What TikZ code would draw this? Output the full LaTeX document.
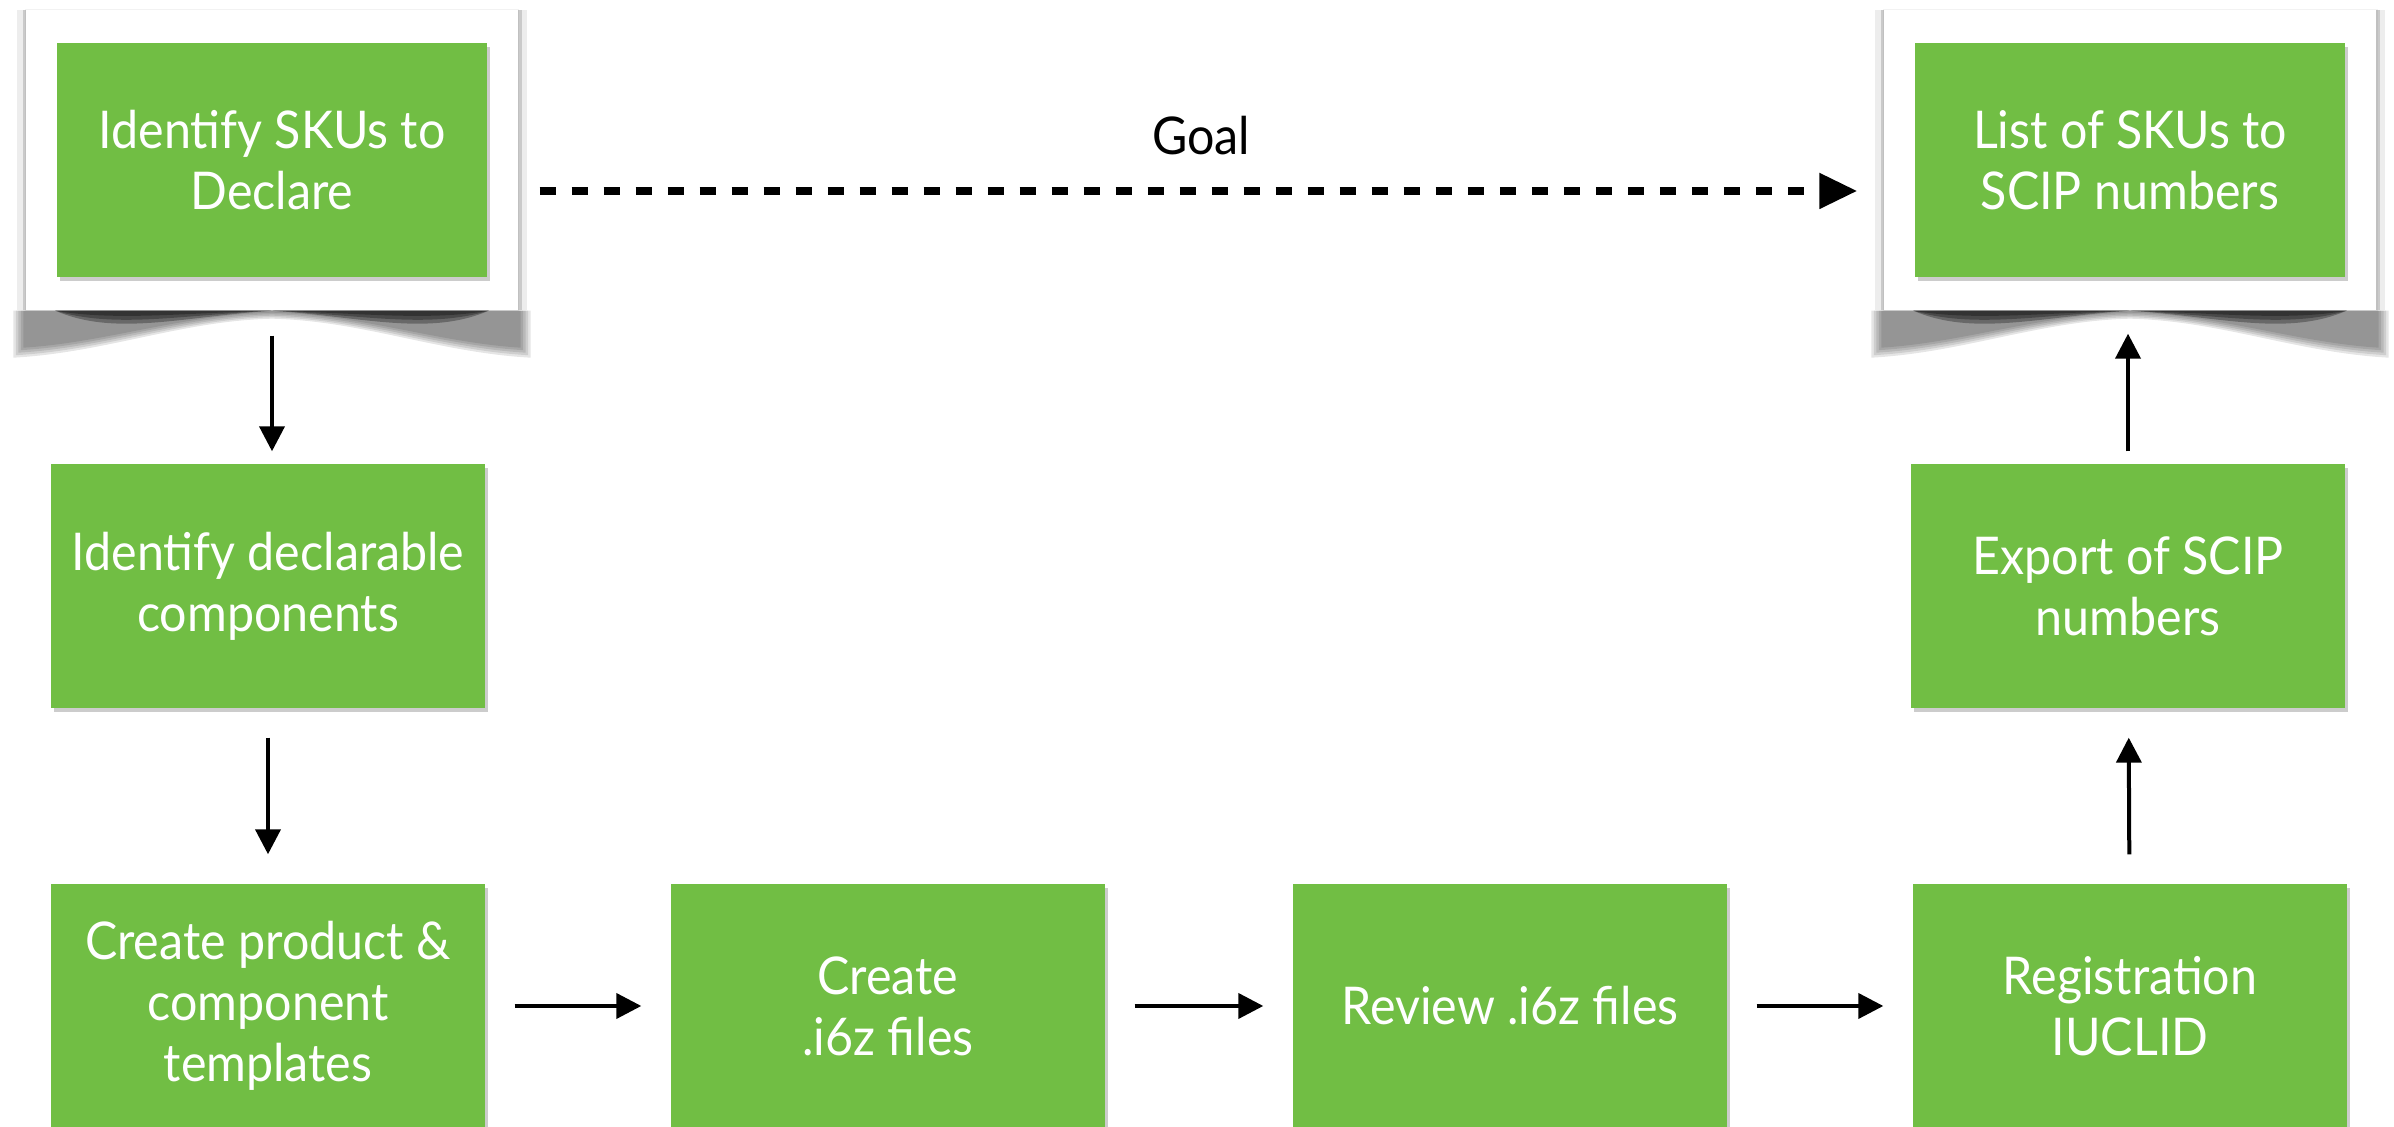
\documentclass[tikz,border=0pt]{standalone}
\usepackage{fontspec}
\setmainfont{Lato}[FakeStretch=0.93]
\usetikzlibrary{arrows.meta,calc,shadows}

\definecolor{stepgreen}{RGB}{113,190,68}

\tikzset{
  stepbox/.style={fill=stepgreen, text=white, align=center, inner sep=0pt,
    minimum width=4.34cm, minimum height=2.44cm,
    drop shadow={fill=black, opacity=0.2, shadow xshift=0.03cm, shadow yshift=-0.04cm}},
  topbox/.style={stepbox, minimum width=4.30cm, minimum height=2.34cm},
  frmbox/.style={fill=white, inner sep=0pt, minimum width=4.92cm, minimum height=3.0cm,
    general shadow={fill=black, opacity=0.07, shadow xshift=-0.09cm},
    general shadow={fill=black, opacity=0.07, shadow xshift=0.09cm},
    general shadow={fill=black, opacity=0.15, shadow xshift=-0.035cm},
    general shadow={fill=black, opacity=0.15, shadow xshift=0.035cm},
    general shadow={fill=black, opacity=0.05, shadow scale=1.006}},
  arr/.style={-{Triangle[length=0.25cm,width=0.25cm]}, line width=0.04cm,
    shorten <=0.29cm, shorten >=0.29cm},
  goalarr/.style={-{Triangle[length=0.38cm,width=0.34cm]}, line width=0.08cm,
    dash pattern=on 0.16cm off 0.16cm}
}

\begin{document}
\begin{tikzpicture}[x=1cm,y=1cm,font=\fontsize{14.8}{17.4}\selectfont]
\clip (0,0) rectangle (23.94,11.27);
% white frames with curled shadow
\node[frmbox] (idskufrm) at (2.72,9.67) {};
\node[frmbox] (listfrm) at (21.30,9.67) {};
\foreach \f in {idskufrm,listfrm}{
  \foreach \s in {0,0.025,0.05,0.075,0.1}
    \fill[black, opacity=0.1]
      ($(\f.south west)+(-0.12+\s,0)$) -- ($(\f.south west)+(-0.12+\s,-0.47+\s)$)
      .. controls ($(\f.south west)+(0.8,-0.42+\s)$) and ($(\f.south)+(-0.9,-0.1+0.6*\s)$) .. ($(\f.south)+(0,-0.08+0.6*\s)$)
      .. controls ($(\f.south)+(0.9,-0.1+0.6*\s)$) and ($(\f.south east)+(-0.8,-0.42+\s)$) .. ($(\f.south east)+(0.12-\s,-0.47+\s)$)
      -- ($(\f.south east)+(0.12-\s,0)$) -- cycle;
  \foreach \s in {1,0.7,0.4}
    \fill[black, opacity=0.3]
      ($(\f.south west)+(0.3,0)$)
      .. controls ($(\f.south west)+(0.9,-0.26*\s)$) and ($(\f.south)+(-0.9,-0.06*\s)$) .. (\f.south)
      .. controls ($(\f.south)+(0.9,-0.06*\s)$) and ($(\f.south east)+(-0.9,-0.26*\s)$) .. ($(\f.south east)+(-0.3,0)$)
      -- cycle;
}
% steps
\node[topbox] (idsku) at (idskufrm) {Identify SKUs to\\Declare};
\node[topbox] (skulist) at (listfrm) {List of SKUs to\\SCIP numbers};
\node[stepbox] (declcomp) at (2.68,5.41) {Identify declarable\\components};
\node[stepbox] (templ) at (2.68,1.21) {Create product \&\\component\\templates};
\node[stepbox] (mkfile) at (8.88,1.21) {Create\\.i6z files};
\node[stepbox] (review) at (15.10,1.21) {Review .i6z files};
\node[stepbox] (regist) at (21.30,1.21) {Registration\\IUCLID};
\node[stepbox] (export) at (21.28,5.41) {Export of SCIP\\numbers};
% connectors
\draw[goalarr, shorten <=0.21cm, shorten >=0.26cm] ([yshift=-0.31cm]idskufrm.east) -- node[above=0.2cm] (goal) {Goal} ([yshift=-0.31cm]listfrm.west);
\draw[arr, shorten <=0.58cm, shorten >=0.12cm] (idsku.south) -- (idsku.south |- declcomp.north);
\draw[arr] (declcomp) -- (templ);
\draw[arr] (templ) -- (mkfile);
\draw[arr] (mkfile) -- (review);
\draw[arr] (review) -- (regist);
\draw[arr] (regist) -- (export);
\draw[arr, shorten <=0.12cm, shorten >=0.56cm] (export.north) -- (export.north |- skulist.south);
\end{tikzpicture}
\end{document}
